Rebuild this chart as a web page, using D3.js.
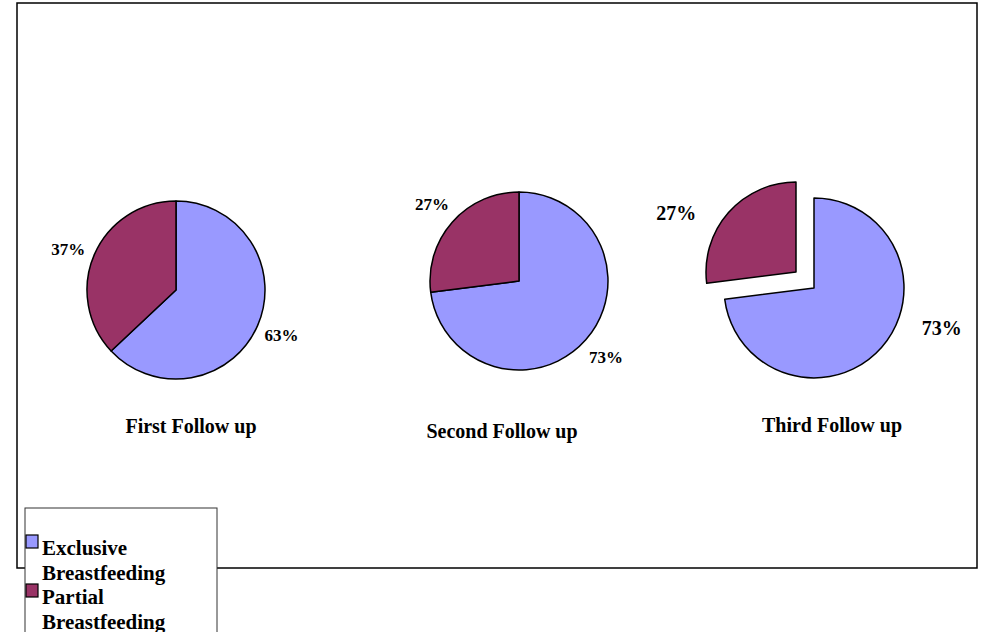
<!DOCTYPE html>
<html>
<head>
<meta charset="utf-8">
<script src="https://cdn.jsdelivr.net/npm/d3@7"></script>
<style>
  html, body { margin: 0; padding: 0; background: #fff; }
  svg { display: block; font-family: "Liberation Serif", "Times New Roman", serif; font-weight: bold; }
</style>
</head>
<body>
<div id="chart"></div>
<script>
// Data
const categories = ["Exclusive Breastfeeding", "Partial Breastfeeding"];
const followUps  = ["First Follow up", "Second Follow up", "Third Follow up"];
const exclusive  = [63, 73, 73];
const partial    = [37, 27, 27];
const colors     = ["#9999FF", "#993366"];

// Chart dimensions
const width  = 982;
const height = 632;

// Layout for each pie (center, radius, explode distance, label placement)
const layout = [
  { cx: 176, cy: 290, r: 89, explode: 0,  labelDist: 115, labelTurn: [0, -3],    labelSize: 17, titleX: 191, titleY: 433 },
  { cx: 519, cy: 281, r: 89, explode: 0,  labelDist: 116, labelTurn: [0, 0],     labelSize: 17, titleX: 502, titleY: 438 },
  { cx: 805, cy: 280, r: 90, explode: 12, labelDist: 145, labelTurn: [-22, -14], labelSize: 20, titleX: 832, titleY: 432 }
];

const svg = d3.select("#chart")
  .append("svg")
    .attr("width", width)
    .attr("height", height);

svg.append("rect")
  .attr("width", width).attr("height", height)
  .attr("fill", "#fff");

// Outer chart border
svg.append("rect")
  .attr("x", 17).attr("y", 3)
  .attr("width", 960).attr("height", 565)
  .attr("fill", "none")
  .attr("stroke", "#000")
  .attr("stroke-width", 1.5);

const pie = d3.pie().sort(null).value(d => d);
const deg = Math.PI / 180;

followUps.forEach((name, i) => {
  const L = layout[i];
  const arcs = pie([exclusive[i], partial[i]]);
  const arc = d3.arc().innerRadius(0).outerRadius(L.r);

  const g = svg.append("g")
    .attr("transform", `translate(${L.cx},${L.cy})`);

  arcs.forEach((a, j) => {
    const mid = (a.startAngle + a.endAngle) / 2;
    const dx = L.explode * Math.sin(mid);
    const dy = -L.explode * Math.cos(mid);

    g.append("path")
      .attr("d", arc(a))
      .attr("transform", `translate(${dx},${dy})`)
      .attr("fill", colors[j])
      .attr("stroke", "#000")
      .attr("stroke-width", 1.5)
      .attr("stroke-linejoin", "round");

    const ang = mid + L.labelTurn[j] * deg;
    g.append("text")
      .attr("x", L.labelDist * Math.sin(ang))
      .attr("y", -L.labelDist * Math.cos(ang))
      .attr("text-anchor", "middle")
      .attr("dominant-baseline", "central")
      .style("font-size", L.labelSize + "px")
      .text(Math.round(a.data) + "%");
  });

  svg.append("text")
    .attr("x", L.titleX)
    .attr("y", L.titleY)
    .attr("text-anchor", "middle")
    .style("font-size", "20px")
    .text(name);
});

// Legend box
const legend = svg.append("g")
  .attr("transform", "translate(25,508)");

legend.append("rect")
  .attr("width", 192)
  .attr("height", 140)
  .attr("fill", "#fff")
  .attr("stroke", "#333")
  .attr("stroke-width", 1);

categories.forEach((label, j) => {
  const y0 = 27 + j * 49;
  legend.append("rect")
    .attr("x", 1).attr("y", y0)
    .attr("width", 12).attr("height", 13)
    .attr("fill", colors[j])
    .attr("stroke", "#000")
    .attr("stroke-width", 1.2);

  const words = label.split(" ");
  legend.append("text")
    .attr("x", 17)
    .attr("y", y0 + 20)
    .style("font-size", "21px")
    .selectAll("tspan")
    .data(words)
    .join("tspan")
      .attr("x", 17)
      .attr("dy", (d, k) => k === 0 ? 0 : 24.5)
      .text(d => d);
});
</script>
</body>
</html>
